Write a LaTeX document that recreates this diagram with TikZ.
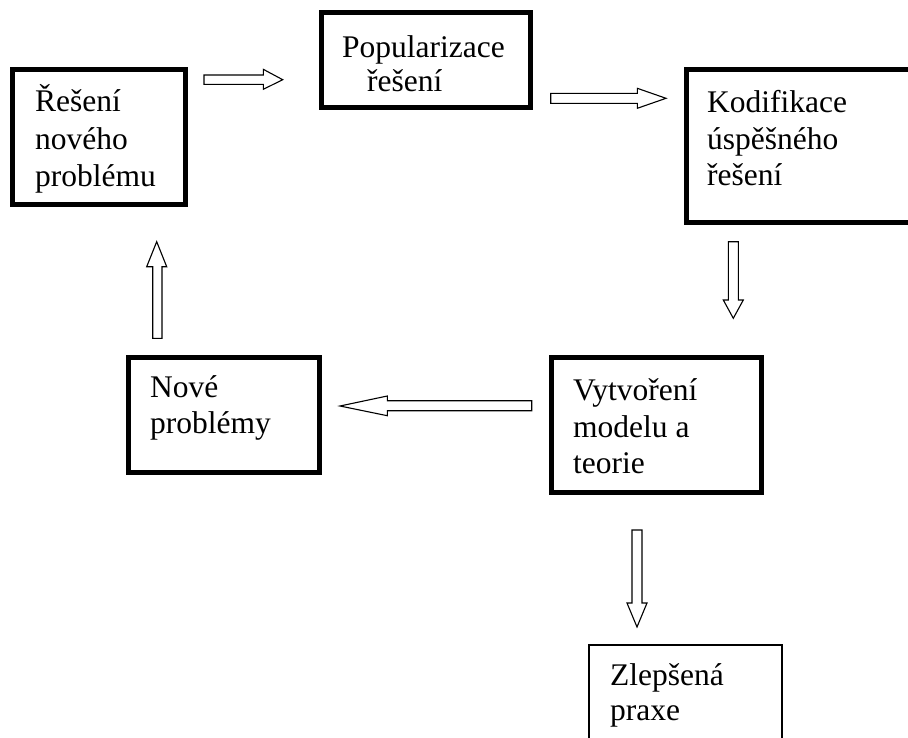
\documentclass[tikz,border=0pt]{standalone}
\usepackage{fontspec}
\setmainfont{Liberation Serif}
\begin{document}
\begin{tikzpicture}[x=1pt,y=-1pt,
  heavybox/.style={draw=black,line width=5pt,rectangle,inner sep=0pt,fill=white},
  lightbox/.style={draw=black,line width=1.2pt,rectangle,inner sep=0pt,fill=white},
  boxtext/.style={anchor=base west,inner sep=0pt,font=\fontsize{31.5}{37}\selectfont},
  blockarrow/.style={draw=black,line width=1.1pt,fill=white,line join=miter}]
\useasboundingbox (0,0) rectangle (908,737);
\clip (0,0) rectangle (908,737);
% boxes
\node[heavybox,minimum width=173.3pt,minimum height=135pt] (b1) at (99.15,136.5) {};
\node[heavybox,minimum width=209.5pt,minimum height=95pt] (b2) at (425.75,60) {};
\node[heavybox,minimum width=229pt,minimum height=153.5pt] (b3) at (800.5,145.75) {};
\node[heavybox,minimum width=210.5pt,minimum height=135pt] (b4) at (656.25,425) {};
\node[lightbox,minimum width=193pt,minimum height=115pt] (b5) at (685.5,702.5) {};
\node[heavybox,minimum width=191pt,minimum height=115pt] (b6) at (224,415) {};
% texts
\node[boxtext] (t1a) at (35,111.7) {Řešení};
\node[boxtext] (t1b) at (35,149.5) {nového};
\node[boxtext] (t1c) at (35,186.7) {problému};
\node[boxtext] (t2a) at (342,57) {Popularizace};
\node[boxtext] (t2b) at (367,91) {řešení};
\node[boxtext] (t3a) at (707,112) {Kodifikace};
\node[boxtext] (t3b) at (707,149.5) {úspěšného};
\node[boxtext] (t3c) at (707,185.5) {řešení};
\node[boxtext] (t4a) at (573,400) {Vytvoření};
\node[boxtext] (t4b) at (573,437) {modelu a};
\node[boxtext] (t4c) at (573,473) {teorie};
\node[boxtext] (t5a) at (610,685) {Zlepšená};
\node[boxtext] (t5b) at (610,720) {praxe};
\node[boxtext] (t6a) at (150,397) {Nové};
\node[boxtext] (t6b) at (150,433) {problémy};
% block arrows
% b1 -> b2
\draw[blockarrow] (204,75) -- (263.3,75) -- (263.3,69.3) -- (282.7,79.7) -- (263.3,89.3) -- (263.3,84.3) -- (204,84.3) -- cycle;
% b2 -> b3
\draw[blockarrow] (550.7,93.3) -- (637.3,93.3) -- (637.3,88.3) -- (666,98.3) -- (637.3,108.3) -- (637.3,103.3) -- (550.7,103.3) -- cycle;
% b3 -> b4
\draw[blockarrow] (728.3,241.7) -- (738.3,241.7) -- (738.3,300) -- (743.3,300) -- (733.3,318.3) -- (723.3,300) -- (728.3,300) -- cycle;
% b4 -> b6
\draw[blockarrow] (531.7,400.7) -- (387.3,400.7) -- (387.3,396) -- (340,406) -- (387.3,415.7) -- (387.3,410.7) -- (531.7,410.7) -- cycle;
% b6 -> b1
\draw[blockarrow] (152.7,338.3) -- (152.7,266.7) -- (146.7,266.7) -- (156.7,241.7) -- (166.7,266.7) -- (162,266.7) -- (162,338.3) -- cycle;
% b4 -> b5
\draw[blockarrow] (632,530) -- (642,530) -- (642,603) -- (647,603) -- (637,627) -- (627,603) -- (632,603) -- cycle;
\end{tikzpicture}
\end{document}
